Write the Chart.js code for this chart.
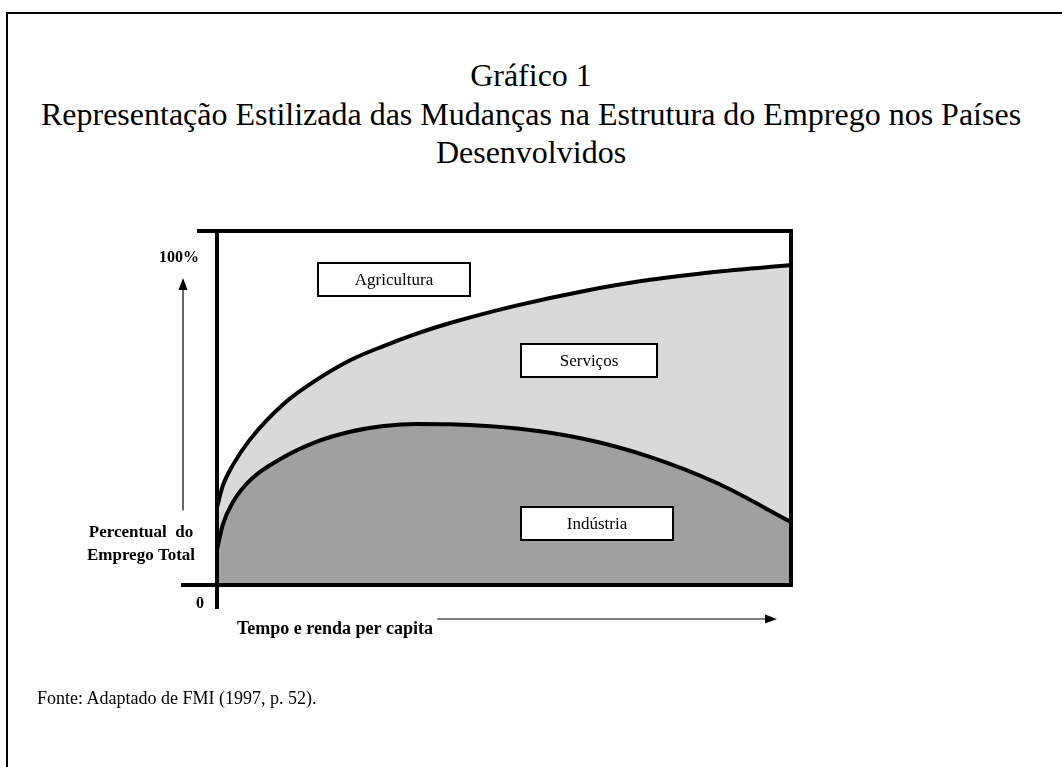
<!DOCTYPE html>
<html lang="pt">
<head>
    <meta charset="UTF-8">
    <title>Gráfico 1 - Estrutura do Emprego</title>
    <script src="https://cdn.jsdelivr.net/npm/chart.js"></script>
    <style>
        body { margin: 0; background: #fff; }
        #wrap { position: relative; width: 1062px; height: 767px; overflow: hidden; font-family: "Liberation Serif", "Times New Roman", serif; color: #000; }
        #frame { position: absolute; left: 6px; top: 12px; width: 1100px; height: 800px; border-left: 2px solid #000; border-top: 2px solid #000; }
        .title { position: absolute; left: 0; width: 1062px; text-align: center; font-size: 32px; line-height: 38px; }
        #source { position: absolute; left: 37px; top: 688px; font-size: 18px; }
        #chartBox { position: absolute; left: 0; top: 0; width: 1062px; height: 767px; }
    </style>
</head>
<body>
<div id="wrap">
    <div id="frame"></div>
    <div class="title" style="top:56px">Gráfico 1</div>
    <div class="title" style="top:95px">Representação Estilizada das Mudanças na Estrutura do Emprego nos Países<br>Desenvolvidos</div>
    <div id="chartBox"><canvas id="empregoChart"></canvas></div>
    <div id="source">Fonte: Adaptado de FMI (1997, p. 52).</div>
</div>

<script>
    // tempo / renda per capita (0 a 100)
    const tempo = [0, 1, 2.8, 5.7, 11.5, 17.4, 23.2, 29, 34.8, 40.6, 52.3, 63.8, 75.4, 87.1, 100];
    // emprego acumulado: indústria (curva de baixo)
    const industria = [9.9, 17, 23.5, 29.5, 36, 40.5, 43.3, 44.9, 45.5, 45.4, 44.2, 41.3, 36.2, 28.8, 17.8];
    // indústria + serviços (curva de cima)
    const industriaServicos = [22, 28, 34, 41, 51, 58, 63.5, 67.5, 71, 74, 79, 83, 86.2, 88.5, 90.4];
    const setores = ['Agricultura', 'Serviços', 'Indústria'];
    const eixoY = ['100%', '0'];

    const serif = '"Liberation Serif", "Times New Roman", serif';

    function arrow(ctx, x1, y1, x2, y2) {
        const ang = Math.atan2(y2 - y1, x2 - x1);
        ctx.beginPath();
        ctx.moveTo(x1, y1);
        ctx.lineTo(x2 - 10 * Math.cos(ang), y2 - 10 * Math.sin(ang));
        ctx.lineWidth = 1.2;
        ctx.stroke();
        ctx.beginPath();
        ctx.moveTo(x2, y2);
        ctx.lineTo(x2 - 12 * Math.cos(ang) - 4.5 * Math.sin(ang), y2 - 12 * Math.sin(ang) + 4.5 * Math.cos(ang));
        ctx.lineTo(x2 - 12 * Math.cos(ang) + 4.5 * Math.sin(ang), y2 - 12 * Math.sin(ang) - 4.5 * Math.cos(ang));
        ctx.closePath();
        ctx.fill();
    }

    function labelBox(ctx, text, x, y, w, h) {
        ctx.fillStyle = '#fff';
        ctx.fillRect(x, y, w, h);
        ctx.lineWidth = 2;
        ctx.strokeRect(x, y, w, h);
        ctx.fillStyle = '#000';
        ctx.font = '17px ' + serif;
        ctx.textAlign = 'center';
        ctx.textBaseline = 'middle';
        ctx.fillText(text, x + w / 2, y + h / 2 + 1);
    }

    // eixos, caixas e setas desenhados por cima das áreas
    const decor = {
        id: 'decor',
        afterDatasetsDraw(chart) {
            const ctx = chart.ctx;
            const xs = chart.scales.x, ys = chart.scales.y;
            const L = xs.getPixelForValue(0), R = xs.getPixelForValue(100);
            const T = ys.getPixelForValue(100), B = ys.getPixelForValue(0);
            ctx.save();
            ctx.strokeStyle = '#000';
            ctx.fillStyle = '#000';
            ctx.lineWidth = 4;
            ctx.lineCap = 'square';
            ctx.beginPath();
            ctx.moveTo(L - 18, T); ctx.lineTo(R, T); ctx.lineTo(R, B);
            ctx.moveTo(L - 34, B); ctx.lineTo(R, B);
            ctx.moveTo(L, T); ctx.lineTo(L, B + 22);
            ctx.stroke();

            // caixas dos setores
            labelBox(ctx, setores[0], L + 101, T + 32, 152, 33);
            labelBox(ctx, setores[1], L + 304, T + 113, 136, 33);
            labelBox(ctx, setores[2], L + 304, T + 276, 152, 33);

            // rótulos do eixo vertical
            ctx.font = 'bold 16px ' + serif;
            ctx.textAlign = 'center';
            ctx.textBaseline = 'middle';
            ctx.fillText(eixoY[0], L - 38, T + 27);
            ctx.fillText(eixoY[1], L - 17, B + 19);
            ctx.font = 'bold 17px ' + serif;
            ctx.fillText('Percentual  do', L - 76, B - 52);
            ctx.fillText('Emprego Total', L - 76, B - 29);
            arrow(ctx, L - 34, B - 75, L - 34, T + 47);

            // rótulo do eixo horizontal
            ctx.textAlign = 'left';
            ctx.font = 'bold 18px ' + serif;
            ctx.fillText('Tempo e renda per capita', L + 20, B + 44);
            arrow(ctx, L + 221, B + 34, L + 560, B + 34);
            ctx.restore();
        }
    };

    const ctx = document.getElementById('empregoChart').getContext('2d');
    new Chart(ctx, {
        type: 'line',
        data: {
            labels: tempo,
            datasets: [{
                label: 'Indústria',
                data: tempo.map((t, i) => ({ x: t, y: industria[i] })),
                borderColor: '#000',
                borderWidth: 4,
                backgroundColor: '#a0a0a0',
                fill: 'origin',
                pointRadius: 0,
                cubicInterpolationMode: 'monotone'
            }, {
                label: 'Serviços',
                data: tempo.map((t, i) => ({ x: t, y: industriaServicos[i] })),
                borderColor: '#000',
                borderWidth: 4,
                backgroundColor: '#d9d9d9',
                fill: '-1',
                pointRadius: 0,
                cubicInterpolationMode: 'monotone'
            }]
        },
        options: {
            responsive: true,
            maintainAspectRatio: false,
            animation: false,
            layout: { padding: { left: 217, right: 271, top: 231, bottom: 182 } },
            scales: {
                x: { type: 'linear', min: 0, max: 100, display: false },
                y: { min: 0, max: 100, display: false }
            },
            plugins: {
                legend: { display: false },
                tooltip: { enabled: false }
            }
        },
        plugins: [decor]
    });
</script>
</body>
</html>
